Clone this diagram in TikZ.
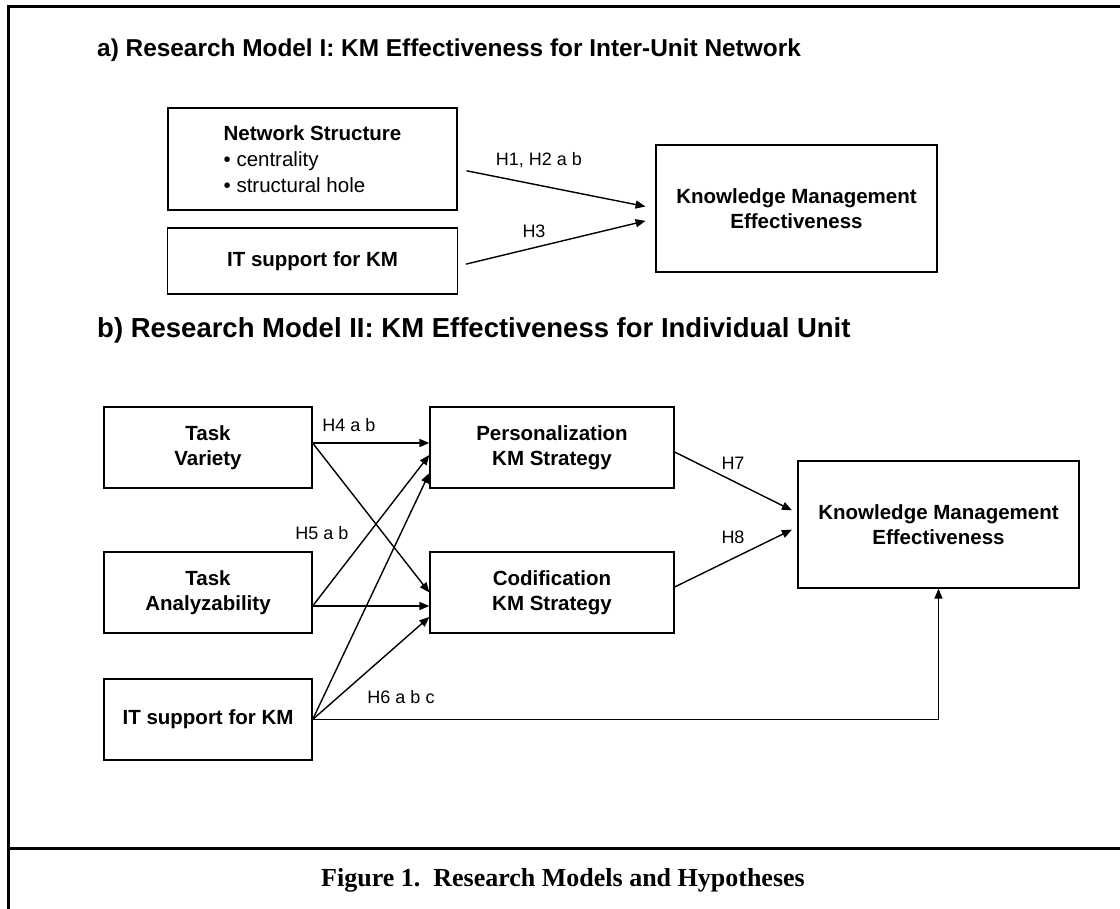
\documentclass[tikz,border=0pt]{standalone}
\usepackage{fontspec}
\setmainfont{Liberation Sans}
\newfontfamily\capfont{Liberation Serif}
\usetikzlibrary{positioning,arrows.meta}

\begin{document}
\begin{tikzpicture}
[x=1pt,y=-1pt,on grid,>={Triangle[length=10pt,width=8pt]},
 every node/.style={font=\fontsize{20.5}{25}\selectfont},
 box/.style={draw,line width=1.3pt,inner sep=0pt,align=center,
   font=\bfseries\fontsize{20.5}{25}\selectfont},
 small box/.style={box,minimum width=208pt,minimum height=81pt},
 wide box/.style={box,minimum width=244pt,minimum height=81pt},
 result/.style={box,minimum width=281pt,minimum height=127pt},
 title/.style={anchor=west,inner sep=0pt,font=\bfseries\fontsize{24.4}{28}\selectfont},
 hyp/.style={inner sep=0pt,font=\fontsize{18}{20}\selectfont},
 link/.style={->,line width=1.4pt}]

\useasboundingbox (0,0) rectangle (1120,909);
\draw [line width=3pt] (1120,7) -- (8,7) -- (8,909);
\draw [line width=3pt] (8,848) -- (1120,848);

% model I
\node [title] (titleA) at (97,50) {a) Research Model I: KM Effectiveness for Inter-Unit Network};
\node [box,minimum width=289pt,minimum height=102pt,align=left,
  font=\fontsize{20.5}{26}\selectfont] (net) at (312.5,159)
  {\textbf{Network Structure}\\ \textbullet\ centrality\\ \textbullet\ structural hole};
\node [box,minimum width=290pt,minimum height=66pt] (itA) [below=102pt of net] {IT support for KM};
\node [result] (kmeA) at (796.5,208.5) {Knowledge Management\\ Effectiveness};

\draw [link,shorten <=9pt,shorten >=10pt] ([yshift=-10pt]net.east) -- ([yshift=0pt]kmeA.west);
\draw [link,shorten <=8pt,shorten >=10pt] ([yshift=-5pt]itA.east) -- ([yshift=-10pt]kmeA.west);
\node [hyp] (h1) at (539,160) {H1, H2 a b};
\node [hyp] (h3) at (534,231) {H3};

% model II
\node [title,font=\bfseries\fontsize{27.5}{30}\selectfont] (titleB) at (97,330)
  {b) Research Model II: KM Effectiveness for Individual Unit};
\node [small box] (var) at (208,447.5) {Task\\ Variety};
\node [small box] (ana) [below=145pt of var] {Task\\ Analyzability};
\node [small box] (itB) [below=127pt of ana] {IT support for KM};
\node [wide box] (pers) [right=344pt of var] {Personalization\\ KM Strategy};
\node [wide box] (cod) [right=344pt of ana] {Codification\\ KM Strategy};
\node [result] (kmeB) at (938.5,524.5) {Knowledge Management\\ Effectiveness};

\draw [link] ([yshift=4.5pt]var.east) -- ([yshift=4.5pt]pers.west);
\draw [link] ([yshift=4.5pt]var.east) -- (cod.west);
\draw [link] ([yshift=-13.5pt]ana.east) -- ([yshift=-7.5pt]pers.west);
\draw [link] ([yshift=-13.5pt]ana.east) -- ([yshift=-13.5pt]cod.west);
\draw [link] (itB.east) -- ([yshift=-25.5pt]pers.west);
\draw [link] (itB.east) -- ([yshift=-24.5pt]cod.west);
\draw [link] (itB.east) -| (kmeB.south);
\draw [link,shorten >=6pt] ([yshift=-4.5pt]pers.east) -- ([yshift=11.5pt]kmeB.west);
\draw [link,shorten >=6pt] ([yshift=5.5pt]cod.east) -- ([yshift=-2.5pt]kmeB.west);
\node [hyp] (h4) at (349,425) {H4 a b};
\node [hyp] (h5) at (322,533) {H5 a b};
\node [hyp] (h6) at (401,697) {H6 a b c};
\node [hyp] (h7) at (733,463) {H7};
\node [hyp] (h8) at (733,537) {H8};

\node [font=\capfont\bfseries\fontsize{26}{30}\selectfont] (caption) at (563,880)
  {Figure 1.\ \ Research Models and Hypotheses};
\end{tikzpicture}
\end{document}
